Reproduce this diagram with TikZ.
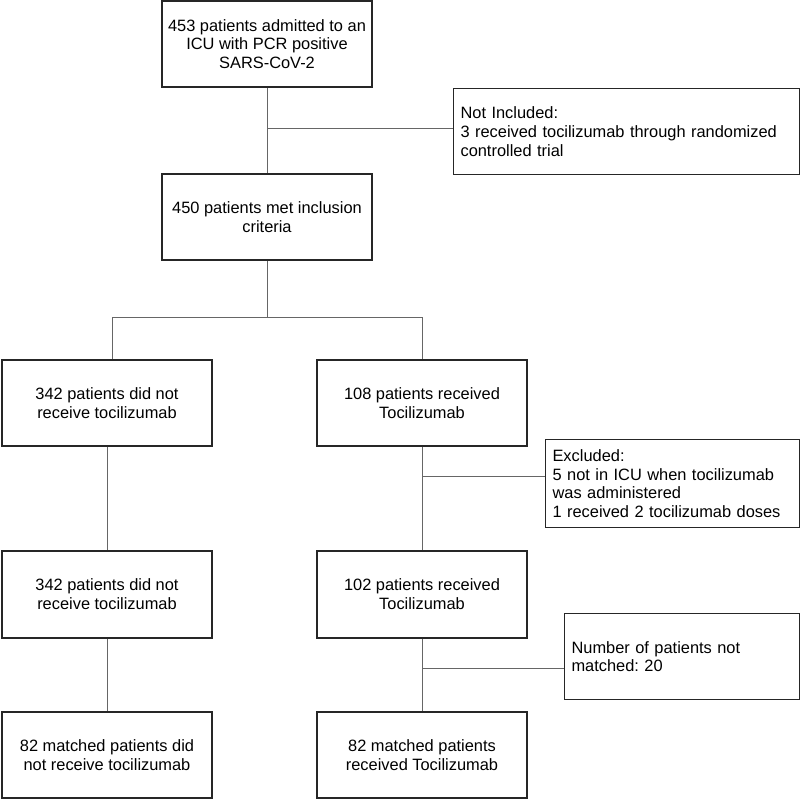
\documentclass[tikz,border=0pt]{standalone}
\usepackage{fontspec}
\setmainfont{Liberation Sans}
\frenchspacing
\begin{document}
\begin{tikzpicture}[x=1pt,y=-1pt,
  txt/.style={font=\fontsize{16.4}{18.8}\selectfont},
  box/.style={txt, draw=black!85, line width=1.1pt, fill=white, inner sep=0pt, align=center, minimum width=210pt, minimum height=86pt},
  side/.style={txt, draw=black!85, line width=1.1pt, fill=white, inner xsep=7pt, inner ysep=0pt, align=left, anchor=north west},
  conn/.style={draw=black!60, line width=0.9pt}]
\useasboundingbox (0,0) rectangle (800,800);

\node[box] (n1) at (267,44) {453 patients admitted to an\\ICU with PCR positive\\SARS-CoV-2};
\node[box] (n2) at (267,217) {450 patients met inclusion\\criteria};
\node[side, text width=332pt, minimum height=86pt] (ni) at (453,88) {Not Included:\\3 received tocilizumab through randomized\\controlled trial};

\node[box] (l1) at (107,403) {342 patients did not\\receive tocilizumab};
\node[box] (r1) at (422,403) {108 patients received\\Tocilizumab};
\node[side, text width=240pt, minimum height=88pt] (ex) at (545,439) {Excluded:\\5 not in ICU when tocilizumab\\was administered\\1 received 2 tocilizumab doses};

\node[box, minimum height=87pt] (l2) at (107,594.5) {342 patients did not\\receive tocilizumab};
\node[box, minimum height=87pt] (r2) at (422,594.5) {102 patients received\\Tocilizumab};
\node[side, text width=221pt, minimum height=86pt] (nm) at (564,613) {Number of patients not\\matched: 20};

\node[box] (l3) at (107,755) {82 matched patients did\\not receive tocilizumab};
\node[box] (r3) at (422,755) {82 matched patients\\received Tocilizumab};

\coordinate (j1) at (267,128);
\coordinate (j2) at (267,317);
\coordinate (bl) at (112,317);
\coordinate (br) at (422,317);
\coordinate (j3) at (422,476);
\coordinate (j4) at (422,668);

\draw[conn] (n1.south) -- (n2.north);
\draw[conn] (j1) -- (ni.west |- j1);
\draw[conn] (n2.south) -- (j2);
\draw[conn] (bl |- l1.north) -- (bl) -- (br) -- (r1.north);
\draw[conn] (l1.south) -- (l2.north);
\draw[conn] (l2.south) -- (l3.north);
\draw[conn] (r1.south) -- (r2.north);
\draw[conn] (r2.south) -- (r3.north);
\draw[conn] (j3) -- (ex.west |- j3);
\draw[conn] (j4) -- (nm.west |- j4);
\end{tikzpicture}
\end{document}
